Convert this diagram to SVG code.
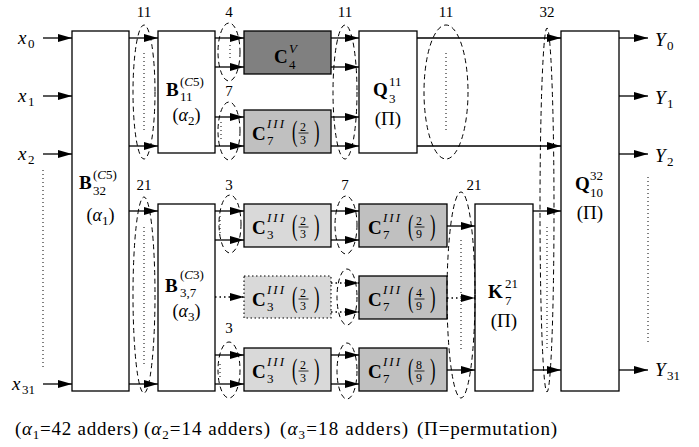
<svg xmlns="http://www.w3.org/2000/svg" width="699" height="447" viewBox="0 0 699 447" font-family="'Liberation Serif', 'DejaVu Serif', serif">
<style>
text{font-family:'Liberation Serif','DejaVu Serif',serif;fill:#000}
.box{fill:#fff;stroke:#000;stroke-width:1.3}
.c4{fill:#808080}
.c7{fill:#c0c0c0}
.c3{fill:#d9d9d9}
.dotbox{stroke-dasharray:1.5 2.5;stroke-width:1.1}
.w{stroke:#000;stroke-width:1.3;fill:none;marker-end:url(#ah)}
.dw{stroke-dasharray:1.5 3}
.ell{fill:none;stroke:#000;stroke-width:1;stroke-dasharray:5 3.5}
.vd{stroke:#000;stroke-width:1;stroke-dasharray:1 3;fill:none}
.b{font-weight:bold;font-size:19px}
.it{font-style:italic}
.m{font-size:19px}
.a{font-size:18px;text-anchor:middle}
.s{font-size:13px}
.iii{font-style:italic;letter-spacing:2px}
.n{font-size:15px;text-anchor:middle}
.fr{font-size:12px;text-anchor:middle}
.par{font-size:30px}
.bar{stroke:#000;stroke-width:0.8}
</style>
<defs>
<marker id="ah" markerUnits="userSpaceOnUse" markerWidth="14" markerHeight="8" refX="14" refY="4" orient="auto"><path d="M0,0 L14,4 L0,8 z" fill="#000"/></marker>
</defs>

<g id="inputs">
<text class="m it" x="18" y="44">x</text><text class="s" x="28" y="48">0</text>
<text class="m it" x="18" y="102">x</text><text class="s" x="28" y="106">1</text>
<text class="m it" x="18" y="160">x</text><text class="s" x="28" y="164">2</text>
<text class="m it" x="12" y="390">x</text><text class="s" x="22" y="394">31</text>
<line class="vd" x1="43" y1="170" x2="43" y2="367"/>
</g>

<g id="outputs">
<text class="m it" x="655" y="46">Y</text><text class="s" x="667" y="50">0</text>
<text class="m it" x="655" y="104">Y</text><text class="s" x="667" y="108">1</text>
<text class="m it" x="655" y="162">Y</text><text class="s" x="667" y="166">2</text>
<text class="m it" x="655" y="376">Y</text><text class="s" x="667" y="380">31</text>
<line class="vd" x1="648" y1="177" x2="648" y2="345"/>
</g>

<g id="B32">
<rect class="box" x="72" y="31" width="57" height="360"/>
<text class="b" x="79" y="189">B</text>
<text class="s"><tspan x="93" y="179">(<tspan class="it">C</tspan>5)</tspan><tspan x="93" y="195">32</tspan></text>
<text class="a" x="100.5" y="221">(<tspan class="it">α</tspan><tspan font-size="13" dy="4">1</tspan><tspan dy="-4">)</tspan></text>
</g>

<g id="B11">
<rect class="box" x="158" y="31" width="57" height="122"/>
<text class="b" x="166" y="96">B</text>
<text class="s"><tspan x="180" y="86">(<tspan class="it">C</tspan>5)</tspan><tspan x="180" y="101">11</tspan></text>
<text class="a" x="186.5" y="121">(<tspan class="it">α</tspan><tspan font-size="13" dy="4">2</tspan><tspan dy="-4">)</tspan></text>
</g>

<g id="B37">
<rect class="box" x="158" y="204" width="57" height="187"/>
<text class="b" x="165" y="292">B</text>
<text class="s"><tspan x="180" y="279">(<tspan class="it">C</tspan>3)</tspan><tspan x="180" y="297">3,7</tspan></text>
<text class="a" x="186.5" y="317">(<tspan class="it">α</tspan><tspan font-size="13" dy="4">3</tspan><tspan dy="-4">)</tspan></text>
</g>

<g id="C4V">
<rect class="box c4" x="244" y="31" width="87" height="43"/>
<text class="b" x="274" y="63">C</text>
<text class="s"><tspan class="it" x="289" y="53">V</tspan><tspan x="289" y="69">4</tspan></text>
</g>

<g id="C7a" transform="translate(244,110)">
<rect class="box c7" x="0" y="0" width="87" height="43"/>
<text class="b" x="8" y="30">C</text>
<text class="s"><tspan class="iii" x="23" y="18">III</tspan><tspan x="23" y="35">7</tspan></text>
<text class="par" transform="translate(48,31) scale(0.55,1)">(</text>
<text class="fr" x="59" y="21">2</text><line class="bar" x1="54.5" y1="23" x2="64.5" y2="23"/><text class="fr" x="59" y="34">3</text>
<text class="par" transform="translate(70,31) scale(0.55,1)">)</text>
</g>

<g id="Q3">
<rect class="box" x="359" y="31" width="58" height="122"/>
<text class="b" x="373" y="96">Q</text>
<text class="s"><tspan x="389" y="86">11</tspan><tspan x="389" y="103">3</tspan></text>
<text class="m" x="388" y="125" text-anchor="middle">(Π)</text>
</g>

<g id="C3a" transform="translate(244,204)">
<rect class="box c3" x="0" y="0" width="87" height="43"/>
<text class="b" x="8" y="30">C</text>
<text class="s"><tspan class="iii" x="23" y="18">III</tspan><tspan x="23" y="35">3</tspan></text>
<text class="par" transform="translate(48,31) scale(0.55,1)">(</text>
<text class="fr" x="59" y="21">2</text><line class="bar" x1="54.5" y1="23" x2="64.5" y2="23"/><text class="fr" x="59" y="34">3</text>
<text class="par" transform="translate(70,31) scale(0.55,1)">)</text>
</g>

<g id="C3b" transform="translate(244,276)">
<rect class="box c3 dotbox" x="0" y="0" width="87" height="42"/>
<text class="b" x="8" y="30">C</text>
<text class="s"><tspan class="iii" x="23" y="18">III</tspan><tspan x="23" y="35">3</tspan></text>
<text class="par" transform="translate(48,31) scale(0.55,1)">(</text>
<text class="fr" x="59" y="21">2</text><line class="bar" x1="54.5" y1="23" x2="64.5" y2="23"/><text class="fr" x="59" y="34">3</text>
<text class="par" transform="translate(70,31) scale(0.55,1)">)</text>
</g>

<g id="C3c" transform="translate(244,348)">
<rect class="box c3" x="0" y="0" width="87" height="43"/>
<text class="b" x="8" y="30">C</text>
<text class="s"><tspan class="iii" x="23" y="18">III</tspan><tspan x="23" y="35">3</tspan></text>
<text class="par" transform="translate(48,31) scale(0.55,1)">(</text>
<text class="fr" x="59" y="21">2</text><line class="bar" x1="54.5" y1="23" x2="64.5" y2="23"/><text class="fr" x="59" y="34">3</text>
<text class="par" transform="translate(70,31) scale(0.55,1)">)</text>
</g>

<g id="C7b" transform="translate(359,204)">
<rect class="box c7" x="0" y="0" width="88" height="43"/>
<text class="b" x="9" y="30">C</text>
<text class="s"><tspan class="iii" x="24" y="18">III</tspan><tspan x="24" y="35">7</tspan></text>
<text class="par" transform="translate(49,31) scale(0.55,1)">(</text>
<text class="fr" x="60" y="21">2</text><line class="bar" x1="55.5" y1="23" x2="65.5" y2="23"/><text class="fr" x="60" y="34">9</text>
<text class="par" transform="translate(71,31) scale(0.55,1)">)</text>
</g>

<g id="C7c" transform="translate(359,276)">
<rect class="box c7" x="0" y="0" width="88" height="43"/>
<text class="b" x="9" y="30">C</text>
<text class="s"><tspan class="iii" x="24" y="18">III</tspan><tspan x="24" y="35">7</tspan></text>
<text class="par" transform="translate(49,31) scale(0.55,1)">(</text>
<text class="fr" x="60" y="21">4</text><line class="bar" x1="55.5" y1="23" x2="65.5" y2="23"/><text class="fr" x="60" y="34">9</text>
<text class="par" transform="translate(71,31) scale(0.55,1)">)</text>
</g>

<g id="C7d" transform="translate(359,348)">
<rect class="box c7" x="0" y="0" width="88" height="43"/>
<text class="b" x="9" y="30">C</text>
<text class="s"><tspan class="iii" x="24" y="18">III</tspan><tspan x="24" y="35">7</tspan></text>
<text class="par" transform="translate(49,31) scale(0.55,1)">(</text>
<text class="fr" x="60" y="21">8</text><line class="bar" x1="55.5" y1="23" x2="65.5" y2="23"/><text class="fr" x="60" y="34">9</text>
<text class="par" transform="translate(71,31) scale(0.55,1)">)</text>
</g>

<g id="K7">
<rect class="box" x="475" y="204" width="58" height="187"/>
<text class="b" x="488" y="298">K</text>
<text class="s"><tspan x="505" y="288">21</tspan><tspan x="505" y="305">7</tspan></text>
<text class="m" x="504" y="327" text-anchor="middle">(Π)</text>
</g>

<g id="Q10">
<rect class="box" x="561" y="31" width="58" height="360"/>
<text class="b" x="575" y="190">Q</text>
<text class="s"><tspan x="590" y="180">32</tspan><tspan x="590" y="197">10</tspan></text>
<text class="m" x="590" y="219" text-anchor="middle">(Π)</text>
</g>

<g id="connectors">
<line class="w" x1="43" y1="38" x2="72" y2="38"/>
<line class="w" x1="43" y1="96" x2="72" y2="96"/>
<line class="w" x1="43" y1="154" x2="72" y2="154"/>
<line class="w" x1="43" y1="384" x2="72" y2="384"/>
<line class="w" x1="129" y1="38" x2="158" y2="38"/>
<line class="w" x1="129" y1="146" x2="158" y2="146"/>
<line class="w" x1="129" y1="211" x2="158" y2="211"/>
<line class="w" x1="129" y1="384" x2="158" y2="384"/>
<line class="w" x1="215" y1="38" x2="244" y2="38"/>
<line class="w" x1="215" y1="67" x2="244" y2="67"/>
<line class="w" x1="215" y1="117" x2="244" y2="117"/>
<line class="w" x1="215" y1="146" x2="244" y2="146"/>
<line class="w" x1="331" y1="38" x2="359" y2="38"/>
<line class="w" x1="331" y1="67" x2="359" y2="67"/>
<line class="w" x1="331" y1="117" x2="359" y2="117"/>
<line class="w" x1="331" y1="146" x2="359" y2="146"/>
<line class="w" x1="417" y1="38" x2="561" y2="38"/>
<line class="w" x1="417" y1="146" x2="561" y2="146"/>
<line class="w" x1="215" y1="211" x2="244" y2="211"/>
<line class="w" x1="215" y1="240" x2="244" y2="240"/>
<line class="w dw" x1="215" y1="297" x2="244" y2="297"/>
<line class="w" x1="215" y1="355" x2="244" y2="355"/>
<line class="w" x1="215" y1="384" x2="244" y2="384"/>
<line class="w" x1="331" y1="211" x2="359" y2="211"/>
<line class="w" x1="331" y1="240" x2="359" y2="240"/>
<line class="w dw" x1="331" y1="283" x2="359" y2="283"/>
<line class="w dw" x1="331" y1="312" x2="359" y2="312"/>
<line class="w" x1="331" y1="355" x2="359" y2="355"/>
<line class="w" x1="331" y1="384" x2="359" y2="384"/>
<line class="w" x1="447" y1="226" x2="475" y2="226"/>
<line class="w dw" x1="447" y1="298" x2="475" y2="298"/>
<line class="w" x1="447" y1="370" x2="475" y2="370"/>
<line class="w" x1="533" y1="211" x2="561" y2="211"/>
<line class="w" x1="533" y1="370" x2="561" y2="370"/>
<line class="w" x1="619" y1="38" x2="648" y2="38"/>
<line class="w" x1="619" y1="96" x2="648" y2="96"/>
<line class="w" x1="619" y1="154" x2="648" y2="154"/>
<line class="w" x1="619" y1="370" x2="648" y2="370"/>
</g>

<g id="bundles">
<ellipse class="ell" cx="144" cy="92" rx="11" ry="67"/>
<line class="vd" x1="144" y1="53" x2="144" y2="130"/>
<text class="n" x="144" y="17">11</text>
<ellipse class="ell" cx="144" cy="295" rx="11" ry="98"/>
<line class="vd" x1="144" y1="227" x2="144" y2="367"/>
<text class="n" x="144" y="190">21</text>
<ellipse class="ell" cx="229" cy="52" rx="11" ry="29"/>
<line class="vd" x1="230" y1="45" x2="230" y2="61"/>
<text class="n" x="229" y="17">4</text>
<ellipse class="ell" cx="229" cy="131" rx="11" ry="29"/>
<line class="vd" x1="221" y1="122" x2="221" y2="140"/>
<text class="n" x="229" y="96">7</text>
<ellipse class="ell" cx="230" cy="224" rx="11" ry="29"/>
<line class="vd" x1="220" y1="216" x2="220" y2="234"/>
<text class="n" x="229" y="190">3</text>
<ellipse class="ell" cx="229" cy="370" rx="11" ry="28"/>
<line class="vd" x1="220" y1="364" x2="220" y2="379"/>
<text class="n" x="229" y="333">3</text>
<ellipse class="ell" cx="345" cy="92" rx="12" ry="67"/>
<text class="n" x="345" y="17">11</text>
<ellipse class="ell" cx="346" cy="225" rx="11" ry="29"/>
<text class="n" x="345" y="190">7</text>
<ellipse class="ell" cx="347" cy="297" rx="10" ry="28"/>
<ellipse class="ell" cx="347" cy="371" rx="10" ry="28"/>
<ellipse class="ell" cx="446" cy="92" rx="22" ry="67"/>
<line class="vd" x1="446" y1="53" x2="446" y2="130"/>
<text class="n" x="446" y="17">11</text>
<ellipse class="ell" cx="461" cy="295" rx="14" ry="103"/>
<line class="vd" x1="461" y1="240" x2="461" y2="352"/>
<text class="n" x="474" y="190">21</text>
<ellipse class="ell" cx="547" cy="210" rx="7" ry="182"/>
<line class="vd" x1="547" y1="227" x2="547" y2="350"/>
<text class="n" x="547" y="17">32</text>
</g>

<g id="caption">
<text class="m" x="15" y="435" textLength="123" lengthAdjust="spacing">(<tspan class="it">α</tspan><tspan font-size="13" dy="4">1</tspan><tspan dy="-4">=42 adders)</tspan></text>
<text class="m" x="144" y="435" textLength="126" lengthAdjust="spacing">(<tspan class="it">α</tspan><tspan font-size="13" dy="4">2</tspan><tspan dy="-4">=14 adders)</tspan></text>
<text class="m" x="280" y="435" textLength="128" lengthAdjust="spacing">(<tspan class="it">α</tspan><tspan font-size="13" dy="4">3</tspan><tspan dy="-4">=18 adders)</tspan></text>
<text class="m" x="417" y="435" textLength="140" lengthAdjust="spacing">(Π=permutation)</text>
</g>
</svg>
